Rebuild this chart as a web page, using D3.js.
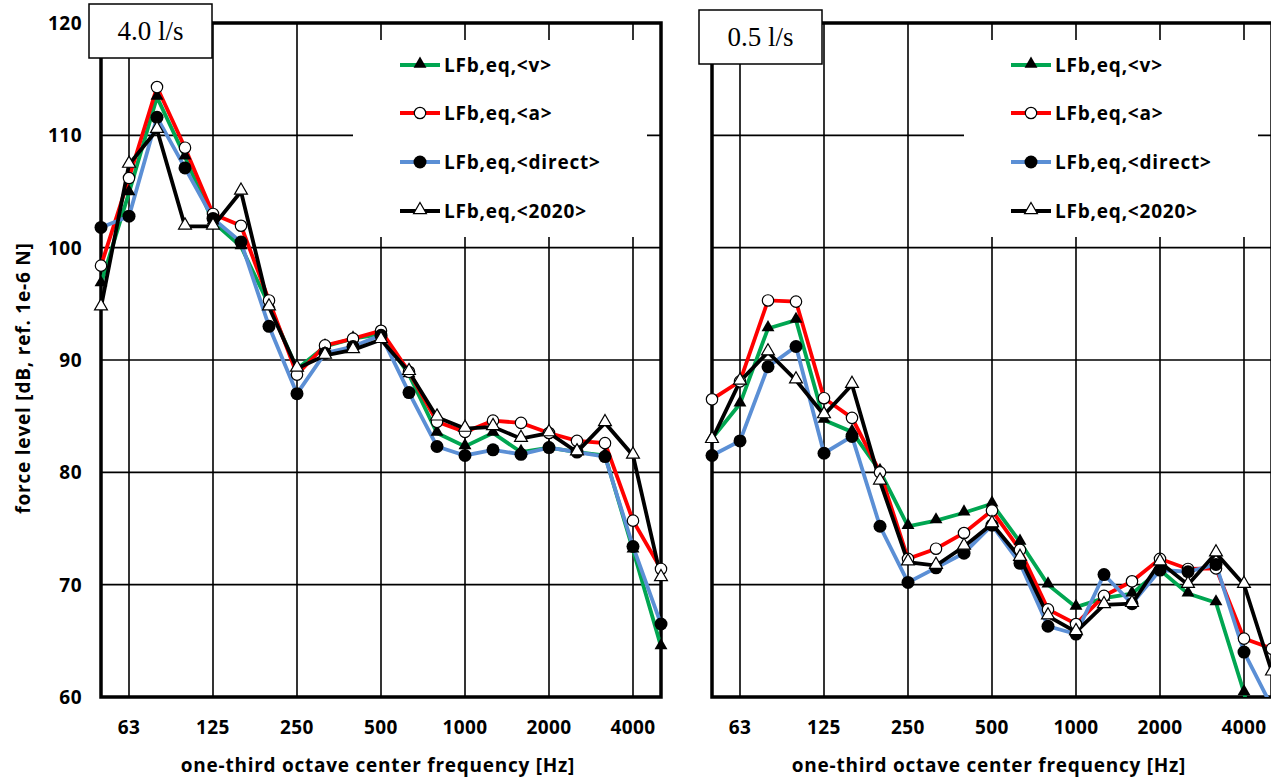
<!DOCTYPE html>
<html>
<head>
<meta charset="utf-8">
<script src="https://cdn.jsdelivr.net/npm/d3@7"></script>
<style>
  html, body { margin: 0; padding: 0; background: #fff; }
  svg { display: block; }
</style>
</head>
<body>
<svg id="chart" width="1271" height="780"></svg>
<script>
// ---- data ----
const bands = ["50","63","80","100","125","160","200","250","315","400","500","630","800","1000","1250","1600","2000","2500","3150","4000","5000"];
const xTickLabels = ["63","125","250","500","1000","2000","4000"];
const yTicks = [60,70,80,90,100,110,120];
const seriesNames = ["LFb,eq,<v>","LFb,eq,<a>","LFb,eq,<direct>","LFb,eq,<2020>"];

// 4.0 l/s
const left_v      = [96.8,104.9,113.4,108.1,102.3,100.1,94.9,89.2,91.2,91.9,92.3,88.7,83.5,82.3,83.5,81.8,82.2,81.8,81.5,73.1,64.5];
const left_a      = [98.4,106.2,114.3,108.9,103.0,101.95,95.3,88.7,91.3,91.9,92.6,88.95,84.5,83.6,84.6,84.4,83.5,82.8,82.6,75.7,71.4];
const left_direct = [101.8,102.8,111.6,107.1,102.6,100.5,93.0,87.0,90.6,91.2,92.2,87.1,82.3,81.5,82.0,81.6,82.2,81.8,81.4,73.4,66.5];
const left_2020   = [94.7,107.4,110.5,101.9,101.9,105.0,94.7,89.25,90.4,90.9,91.8,88.95,84.9,83.9,84.05,83.0,83.5,81.8,84.4,81.5,70.6];

// 0.5 l/s
const right_v      = [83.0,86.1,92.8,93.55,84.65,83.6,80.1,75.2,75.7,76.4,77.2,73.8,70.0,68.0,68.8,69.2,71.3,69.2,68.4,60.4,50.0];
const right_a      = [86.5,88.1,95.3,95.2,86.6,84.85,80.0,72.3,73.2,74.6,76.6,73.1,67.8,66.5,69.0,70.3,72.3,71.4,71.45,65.2,64.3];
const right_direct = [81.5,82.8,89.4,91.2,81.7,83.2,75.2,70.2,71.5,72.8,75.3,71.9,66.3,65.6,70.9,68.3,71.3,71.15,71.8,64.0,59.1];
const right_2020   = [82.9,88.1,90.7,88.2,85.1,87.8,79.2,72.0,71.7,73.4,75.4,72.4,67.2,65.8,68.2,68.3,72.0,70.0,72.8,70.0,62.2];

const panels = [
  { title: "4.0 l/s", series: [left_v, left_a, left_direct, left_2020], dx: 0, box: {x: 89, y: 4}, yLabels: true },
  { title: "0.5 l/s", series: [right_v, right_a, right_direct, right_2020], dx: 611, box: {x: 699, y: 10}, yLabels: false }
];

const colors = ["#00A651", "#FF0000", "#5B8FD5", "#000000"];
const markerKind = ["triFilled", "circOpen", "circFilled", "triOpen"];

const svg = d3.select("#chart");
const FONT = "'Open Sans', 'Noto Sans', sans-serif";
const SERIF = "'Liberation Serif', 'Times New Roman', serif";

const y = d3.scaleLinear().domain([60, 120]).range([697, 23]);

function drawMarker(g, kind, cx, cy) {
  const tri = d3.symbol().type(d3.symbolTriangle).size(72);
  if (kind === "triFilled") {
    g.append("path").attr("d", tri()).attr("transform", `translate(${cx},${cy - 1})`).attr("fill", "#000");
  } else if (kind === "triOpen") {
    g.append("path").attr("d", tri()).attr("transform", `translate(${cx},${cy - 1})`)
      .attr("fill", "#fff").attr("stroke", "#000").attr("stroke-width", 1.2);
  } else if (kind === "circOpen") {
    g.append("circle").attr("cx", cx).attr("cy", cy).attr("r", 5.7)
      .attr("fill", "#fff").attr("stroke", "#000").attr("stroke-width", 1.2);
  } else {
    g.append("circle").attr("cx", cx).attr("cy", cy).attr("r", 6.5).attr("fill", "#000");
  }
}

panels.forEach((p, pi) => {
  const x = d3.scalePoint().domain(bands).range([101 + p.dx, 661 + p.dx]);
  const left = 101 + p.dx, right = 661 + p.dx, top = 23, bottom = 697;
  const g = svg.append("g");

  // clip
  const clipId = "clip" + pi;
  svg.append("clipPath").attr("id", clipId).append("rect")
    .attr("x", left).attr("y", top).attr("width", right - left).attr("height", bottom - top);

  // grid lines
  g.selectAll(".vg").data(xTickLabels).enter().append("line")
    .attr("x1", d => x(d)).attr("x2", d => x(d)).attr("y1", top).attr("y2", bottom)
    .attr("stroke", "#000").attr("stroke-width", 1.6);
  g.selectAll(".hg").data(yTicks.filter(t => t > 60 && t < 120)).enter().append("line")
    .attr("x1", left).attr("x2", right).attr("y1", d => y(d)).attr("y2", d => y(d))
    .attr("stroke", "#000").attr("stroke-width", 1.6);

  // legend background
  const lx = 353 + p.dx, ly = 40;
  g.append("rect").attr("x", lx).attr("y", ly).attr("width", 294).attr("height", 197).attr("fill", "#fff");

  // frame
  g.append("rect").attr("x", left).attr("y", top).attr("width", right - left).attr("height", bottom - top)
    .attr("fill", "none").attr("stroke", "#000").attr("stroke-width", 3.5);

  // series lines
  const line = d3.line().x((d, i) => x(bands[i])).y(d => y(d));
  p.series.forEach((s, si) => {
    g.append("path").datum(s).attr("d", line)
      .attr("fill", "none").attr("stroke", colors[si]).attr("stroke-width", 3.8)
      .attr("stroke-linejoin", "miter").attr("clip-path", `url(#${clipId})`);
  });
  // markers
  p.series.forEach((s, si) => {
    s.forEach((v, i) => {
      if (v < 60 || v > 120) return;
      drawMarker(g, markerKind[si], x(bands[i]), y(v));
    });
  });

  // legend
  seriesNames.forEach((name, si) => {
    const ry = [65, 113, 162, 211][si];
    const x0 = 400 + p.dx;
    g.append("line").attr("x1", x0).attr("x2", x0 + 40).attr("y1", ry).attr("y2", ry)
      .attr("stroke", colors[si]).attr("stroke-width", 3.8);
    drawMarker(g, markerKind[si], x0 + 20, ry);
    g.append("text").attr("x", x0 + 44).attr("y", ry + 6.8).text(name)
      .attr("font-family", FONT).attr("font-weight", 700).attr("font-size", 19)
      .attr("letter-spacing", 0.8).attr("fill", "#000");
  });

  // title box
  g.append("rect").attr("x", p.box.x).attr("y", p.box.y).attr("width", 123).attr("height", 54)
    .attr("fill", "#fff").attr("stroke", "#000").attr("stroke-width", 1.5);
  g.append("text").attr("x", p.box.x + 61.5).attr("y", p.box.y + 36).attr("text-anchor", "middle")
    .attr("font-family", SERIF).attr("font-size", 27).text(p.title);

  // x tick labels
  g.selectAll(".xl").data(xTickLabels).enter().append("text")
    .attr("x", d => x(d)).attr("y", 734).attr("text-anchor", "middle")
    .attr("font-family", FONT).attr("font-weight", 700).attr("font-size", 19)
    .attr("letter-spacing", 0.4).text(d => d);

  // x title
  g.append("text").attr("x", (left + right) / 2 - 3).attr("y", 772).attr("text-anchor", "middle")
    .attr("font-family", FONT).attr("font-weight", 700).attr("font-size", 19)
    .attr("letter-spacing", 0.75)
    .text("one-third octave center frequency [Hz]");

  if (p.yLabels) {
    g.selectAll(".yl").data(yTicks).enter().append("text")
      .attr("x", 82).attr("y", d => y(d) + 7).attr("text-anchor", "end")
      .attr("font-family", FONT).attr("font-weight", 700).attr("font-size", 19)
      .attr("letter-spacing", 0.5).text(d => d);
    g.append("text").attr("transform", "translate(30,378) rotate(-90)").attr("text-anchor", "middle")
      .attr("font-family", FONT).attr("font-weight", 700).attr("font-size", 19)
      .attr("letter-spacing", 0.8)
      .text("force level [dB, ref. 1e-6 N]");
  }
});
</script>
</body>
</html>
